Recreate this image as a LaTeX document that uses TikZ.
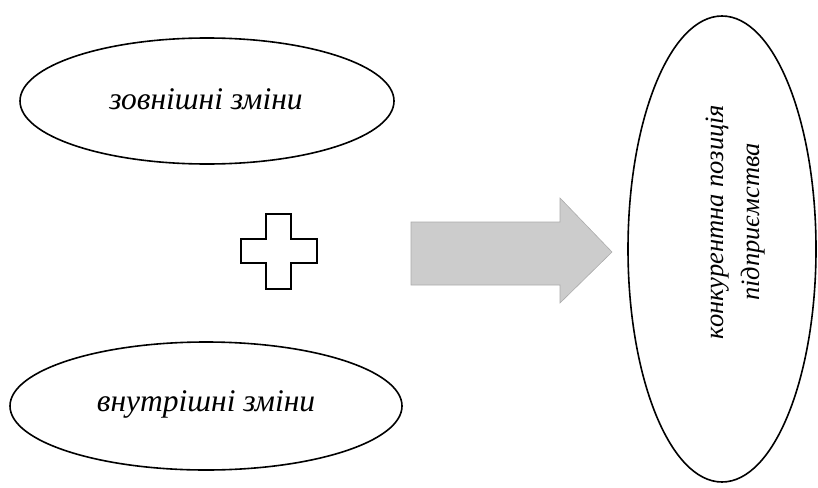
\documentclass[tikz,border=0pt]{standalone}
\usepackage{fontspec}
\setmainfont{Liberation Serif}
\usetikzlibrary{shapes.geometric}
\begin{document}
\begin{tikzpicture}[x=1pt,y=-1pt,
  oval/.style={ellipse,draw,line width=1.6pt,inner sep=0pt},
  lbl/.style={font=\itshape\fontsize{31.5}{36}\selectfont,align=center,inner sep=0pt},
  vlbl/.style={font=\itshape\fontsize{26.5}{36}\selectfont,align=center,inner sep=0pt,rotate=90},
  plus/.style={draw,line width=1.6pt,fill=white},
  bigarrow/.style={draw=black!33,fill=black!20,line width=0.6pt}]
\useasboundingbox (0,0) rectangle (818,487);
% two kinds of change
\node[oval,minimum width=374pt,minimum height=126pt] (ext) at (207,101) {};
\node[lbl] (extt) at (206,99) {зовнішні зміни};
\node[oval,minimum width=392pt,minimum height=128pt] (int) at (206,406) {};
\node[lbl] (intt) at (206,404) {внутрішні зміни};
% plus sign between them
\draw[plus] (266,214) -- (291,214) -- (291,239) -- (317,239) -- (317,263)
  -- (291,263) -- (291,289) -- (266,289) -- (266,263) -- (241,263)
  -- (241,239) -- (266,239) -- cycle;
% block arrow towards the result
\draw[bigarrow] (411,222) -- (560,222) -- (560,198) -- (612,252)
  -- (560,303) -- (560,285) -- (411,285) -- cycle;
% result
\node[oval,minimum width=188pt,minimum height=466pt] (pos) at (722,249) {};
\node[vlbl] (post) at (736,222) {конкурентна позиція\\підприємства};
\end{tikzpicture}
\end{document}
